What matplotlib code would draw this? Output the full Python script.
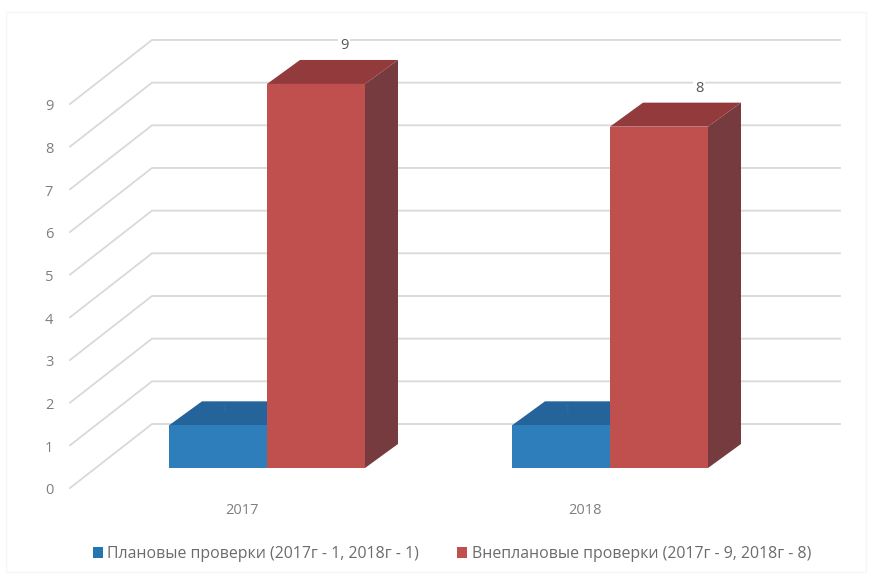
# 3D-looking column chart, faces drawn as polygons on a plain axes
import matplotlib
matplotlib.use("Agg")
import matplotlib.pyplot as plt
from matplotlib.patches import Polygon, Rectangle

years = ["2017", "2018"]
planned = [1, 1]
unplanned = [9, 8]
value_ticks = [0, 1, 2, 3, 4, 5, 6, 7, 8, 9]
planned_label = "Плановые проверки (2017г - 1, 2018г - 1)"
unplanned_label = "Внеплановые проверки (2017г - 9, 2018г - 8)"

W, H = 874, 577
PX_X = 343.0   # pixels per category
PX_Y = 42.67   # pixels per value
X0 = 267.0     # pixel x of first category
Y0 = 468.0     # pixel y of value 0

plt.rcParams["font.family"] = ["Open Sans", "DejaVu Sans"]
fig = plt.figure(figsize=(W / 100, H / 100), dpi=100, facecolor="white")
ax = fig.add_axes([0, 0, 1, 1])
ax.set_xlim(-X0 / PX_X, (W - X0) / PX_X)
ax.set_ylim(-(H - Y0) / PX_Y, Y0 / PX_Y)
ax.axis("off")

# bar size and depth, in data units
bar_w = 98 / PX_X
dx = 33 / PX_X
dy = 24 / PX_Y

# back wall offsets
wall_dy = 44 / PX_Y
left_dy = -20 / PX_Y
x_wall_l = (155 - X0) / PX_X
x_wall_r = (840 - X0) / PX_X
x_diag = (70 - X0) / PX_X
x_kink = (152 - X0) / PX_X
x_tick = (49 - X0) / PX_X

GRID = "#d9d9d9"
TEXT = "#7f7f7f"

# faint frame of the chart area
ax.add_patch(Rectangle(((6 - X0) / PX_X, -(572 - Y0) / PX_Y), 860 / PX_X, 560 / PX_Y,
                       fill=False, ec="#f6f6f6", lw=1))

for v in value_ticks:
    ax.plot([x_diag, x_kink, x_wall_l, x_wall_r],
            [v + left_dy, v + wall_dy, v + wall_dy, v + wall_dy],
            color=GRID, lw=1.3, zorder=1)
    ax.text(x_tick, v + left_dy - 3 / PX_Y, str(v), color=TEXT, fontsize=10.5, ha="center", va="center")


def draw_bar(x, v, front, top, side):
    ax.add_patch(Polygon([(x + bar_w, 0), (x + bar_w + dx, dy), (x + bar_w + dx, v + dy), (x + bar_w, v)],
                         fc=side, ec="none", zorder=2))
    ax.add_patch(Polygon([(x, v), (x + dx, v + dy), (x + bar_w + dx, v + dy), (x + bar_w, v)],
                         fc=top, ec="none", zorder=2))
    ax.add_patch(Rectangle((x, 0), bar_w, v, fc=front, ec="none", zorder=3))


label_nudge = [28, 40]  # value labels do not sit at the same spot over each column
for i, year in enumerate(years):
    draw_bar(i - bar_w, planned[i], "#2e7ebb", "#24649a", "#1f5a8c")
    draw_bar(i, unplanned[i], "#c0504d", "#933a3c", "#763b3e")
    ax.text(i - 25 / PX_X, -(511 - Y0) / PX_Y, year, color=TEXT,
            fontsize=10.5, ha="center", va="center")
    # value labels above the columns
    ax.text(i + bar_w / 2 + label_nudge[i] / PX_X, unplanned[i] + 38.5 / PX_Y, str(unplanned[i]), color="#555555",
            fontsize=10.5, ha="center", va="center", zorder=4,
            bbox=dict(fc="white", ec="none", pad=1))
    ax.text(i - bar_w / 2 + 0.02, planned[i] + 16 / PX_Y, str(planned[i]), color="#2b6ea5",
            fontsize=9, ha="center", va="center", zorder=4)

handles = [Rectangle((0, 0), 1, 1, fc="#2476b0"), Rectangle((0, 0), 1, 1, fc="#c0504d")]
ax.legend(handles, [planned_label, unplanned_label], ncol=2, frameon=False,
          loc="center", bbox_to_anchor=(452 / W, 1 - 554 / H), fontsize=11.4,
          labelcolor="#6b6b6b", handlelength=0.63, handleheight=0.63, handletextpad=0.3,
          columnspacing=2.4, borderpad=0, borderaxespad=0)

fig.savefig("out.png", dpi=100)
